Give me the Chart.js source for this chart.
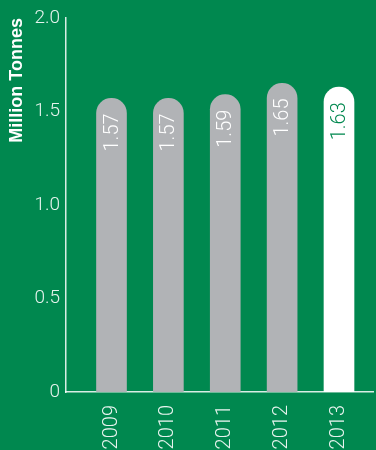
<!DOCTYPE html>
<html>
<head>
<meta charset="utf-8">
<script src="https://cdn.jsdelivr.net/npm/chart.js@4/dist/chart.umd.min.js"></script>
<style>
  html, body { margin: 0; padding: 0; background: #00884f; }
  #wrap { width: 376px; height: 450px; position: relative; }
</style>
</head>
<body>
<div id="wrap"><canvas id="chart"></canvas></div>
<script>
// data
const years = [2009, 2010, 2011, 2012, 2013];
const tonnes = [1.57, 1.57, 1.59, 1.65, 1.63];
const yTicks = [0, 0.5, 1.0, 1.5, 2.0];

const GREEN = '#00884f';
const GREY = '#b1b3b6';
const lightFont = "'Roboto', 'Liberation Sans', sans-serif";

// rotated value labels inside the top of each bar
const valueLabels = {
  id: 'valueLabels',
  afterDatasetsDraw(chart) {
    const ctx = chart.ctx;
    const meta = chart.getDatasetMeta(0);
    ctx.save();
    ctx.font = '300 20px ' + lightFont;
    ctx.textAlign = 'right';
    ctx.textBaseline = 'middle';
    meta.data.forEach(function(bar, i) {
      ctx.save();
      ctx.translate(bar.x + 1, bar.y + 15);
      ctx.rotate(-Math.PI / 2);
      ctx.fillStyle = i === tonnes.length - 1 ? GREEN : '#ffffff';
      ctx.fillText(tonnes[i].toFixed(2), 0, 0);
      ctx.restore();
    });
    ctx.restore();
  }
};

const ctx = document.getElementById('chart').getContext('2d');
new Chart(ctx, {
  type: 'bar',
  data: {
    datasets: [{
      data: years.map((y, i) => ({ x: y, y: tonnes[i] })),
      backgroundColor: years.map((y, i) => i === years.length - 1 ? '#ffffff' : GREY),
      borderRadius: { topLeft: 15, topRight: 15 },
      borderSkipped: 'start',
      barThickness: 30,
    }]
  },
  options: {
    responsive: true,
    maintainAspectRatio: false,
    animation: false,
    layout: { padding: { top: 18, right: 0, left: 0, bottom: 0 } },
    plugins: { legend: { display: false }, tooltip: { enabled: false } },
    scales: {
      x: {
        type: 'linear',
        offset: false,
        min: 2008.2,
        max: 2013.61,
        afterBuildTicks: (scale) => { scale.ticks = years.map(v => ({ value: v })); },
        afterFit: (scale) => { scale.height = 58; },
        grid: { display: false, drawTicks: false, offset: false },
        border: { color: 'rgba(255,255,255,0.85)', width: 1.5 },
        ticks: {
          color: 'rgba(255,255,255,0.9)',
          font: { family: lightFont, size: 20, weight: '300' },
          minRotation: 90,
          maxRotation: 90,
          padding: 13,
          callback: (v) => String(v),
        }
      },
      y: {
        min: 0,
        max: 2,
        afterBuildTicks: (scale) => { scale.ticks = yTicks.map(v => ({ value: v })); },
        afterFit: (scale) => { scale.width = 66; },
        grid: { display: false, drawTicks: false },
        border: { color: 'rgba(255,255,255,0.85)', width: 1.5 },
        title: {
          display: true,
          text: 'Million Tonnes',
          align: 'end',
          color: '#ffffff',
          font: { family: "'Liberation Sans', Arial, sans-serif", size: 18, weight: 'bold' },
          padding: { top: 6, bottom: 0 },
        },
        ticks: {
          color: 'rgba(255,255,255,0.9)',
          font: { family: lightFont, size: 19, weight: '300' },
          padding: 6,
          callback: (v) => v === 0 ? '0' : v.toFixed(1),
        }
      }
    }
  },
  plugins: [valueLabels]
});
</script>
</body>
</html>
